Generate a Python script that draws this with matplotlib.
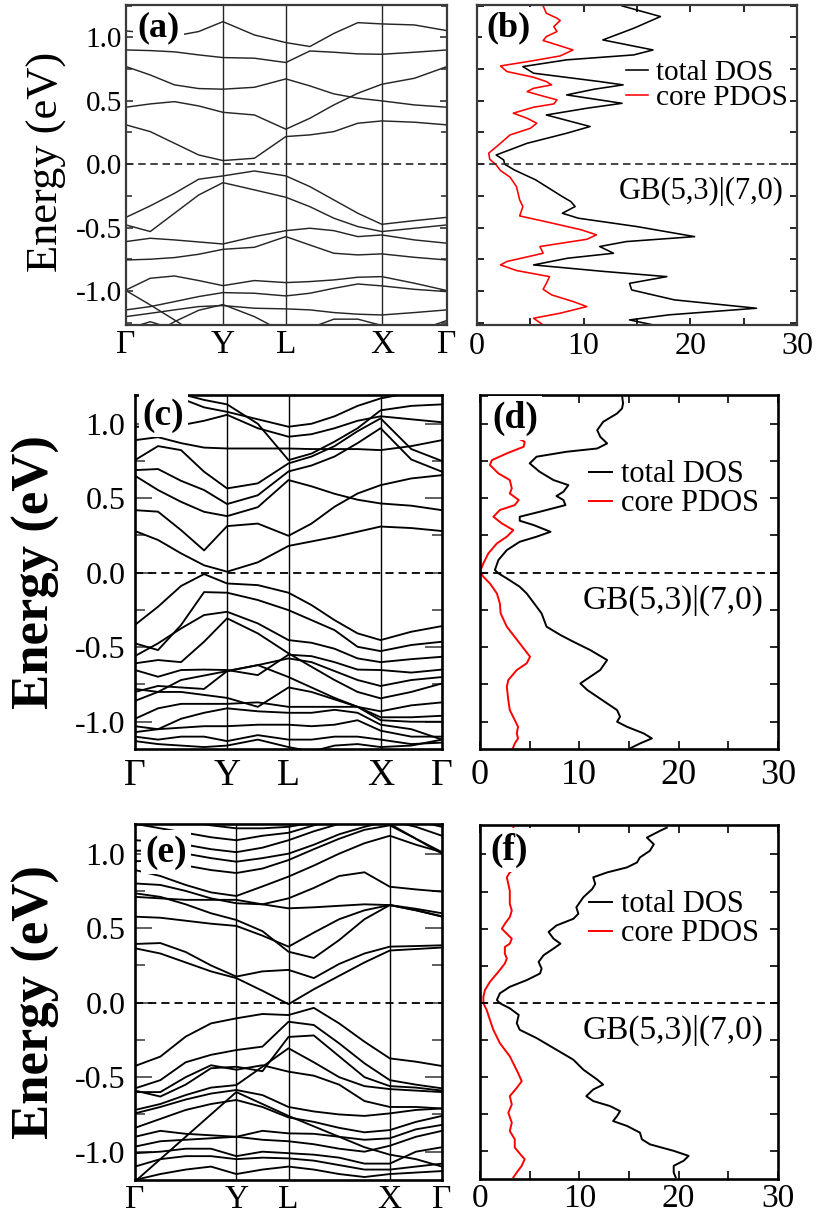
import numpy as np
import matplotlib
matplotlib.use("Agg")
import matplotlib.pyplot as plt
from matplotlib.ticker import MultipleLocator, FormatStrFormatter

plt.rcParams['font.family'] = ['Liberation Serif', 'DejaVu Serif']
plt.rcParams['axes.unicode_minus'] = False

W, H, DPI = 817, 1222, 100
nan = np.nan

# ---------------- high-symmetry path ----------------
k_labels = ['Γ', 'Y', 'L', 'X', 'Γ']
kpts_a = [0.0, 0.302, 0.498, 0.797, 1.0]
kpts_c = [0.0, 0.300, 0.500, 0.800, 1.0]
kpts_e = [0.0, 0.330, 0.500, 0.830, 1.0]
# samples per segment: Γ-Y, Y-L, L-X, X-Γ
seg_samples = [4, 2, 4, 2]

# ---------------- band energies (eV) at the 13 path samples ----------------
bands_a = [
    [1.05, 1.03, 1.01, 1.045, 1.123, 1.018, 0.958, 0.927, 1.03, 1.115, 1.105, 1.097, 1.052],
    [0.900, 0.895, 0.885, 0.861, 0.840, 0.835, 0.801, 0.892, 0.882, 0.869, 0.866, 0.882, 0.900],
    [0.769, 0.703, 0.625, 0.596, 0.591, 0.606, 0.672, 0.617, 0.554, 0.520, 0.499, 0.467, 0.449],
    [0.449, 0.475, 0.493, 0.459, 0.409, 0.388, 0.276, 0.362, 0.467, 0.559, 0.630, 0.677, 0.769],
    [0.310, 0.257, 0.165, 0.073, 0.029, 0.047, 0.218, 0.231, 0.257, 0.323, 0.341, 0.331, 0.310],
    [-0.418, -0.328, -0.229, -0.118, -0.092, -0.053, -0.092, -0.176, -0.281, -0.386, -0.473, -0.444, -0.418],
    [-0.478, -0.530, -0.386, -0.242, -0.145, -0.202, -0.260, -0.334, -0.425, -0.491, -0.530, -0.504, -0.478],
    [-0.609, -0.583, -0.596, -0.612, -0.628, -0.570, -0.523, -0.504, -0.523, -0.570, -0.557, -0.596, -0.622],
    [-0.754, -0.748, -0.735, -0.709, -0.670, -0.654, -0.570, -0.636, -0.701, -0.714, -0.706, -0.733, -0.754],
    [-0.990, -0.898, -0.880, -0.916, -0.956, -0.916, -0.932, -0.924, -0.911, -0.890, -0.885, -0.937, -0.995],
    [-1.147, -1.121, -1.082, -1.042, -1.011, -1.016, -1.037, -1.016, -0.977, -0.943, -0.958, -0.985, -1.003],
    [-1.200, -1.174, -1.147, -1.121, -1.113, -1.134, -1.139, -1.147, -1.168, -1.181, -1.187, -1.168, -1.147],
    [-0.995, -1.108, -1.226, -1.35, nan, nan, nan, nan, nan, nan, nan, nan, nan],
    [nan, -1.35, -1.24, -1.15, -1.105, -1.20, -1.33, nan, nan, nan, nan, nan, nan],
    [nan, nan, nan, nan, nan, nan, nan, -1.29, -1.22, -1.22, -1.27, -1.34, nan],
    [-1.30, -1.24, -1.30, nan, nan, nan, nan, nan, nan, nan, nan, nan, nan],
    [nan, nan, nan, nan, nan, nan, nan, nan, nan, nan, nan, -1.32, -1.23],
]

bands_c = [
    [1.28, 1.26, 1.20, 1.16, 1.13, 1.00, 0.756, 0.80, 0.88, 0.97, 1.09, 1.12, 1.13],
    [1.28, 1.24, 1.17, 1.11, 1.08, 1.03, 0.98, 1.00, 1.05, 1.12, 1.17, 1.21, 1.25],
    [0.98, 0.98, 0.99, 1.02, 1.06, 0.97, 0.913, 0.93, 0.97, 1.02, 1.05, 1.03, 1.01],
    [0.89, 0.91, 0.87, 0.84, 0.834, 0.834, 0.834, 0.83, 0.83, 0.83, 0.823, 0.85, 0.89],
    [0.756, 0.85, 0.823, 0.678, 0.566, 0.60, 0.734, 0.78, 0.85, 0.95, 1.036, 0.83, 0.75],
    [0.689, 0.696, 0.617, 0.555, 0.461, 0.52, 0.68, 0.72, 0.78, 0.87, 0.97, 0.76, 0.678],
    [0.651, 0.555, 0.476, 0.409, 0.38, 0.44, 0.622, 0.58, 0.53, 0.49, 0.465, 0.45, 0.42],
    [0.42, 0.41, 0.286, 0.15, 0.313, 0.33, 0.248, 0.33, 0.443, 0.532, 0.588, 0.633, 0.655],
    [0.28, 0.22, 0.13, 0.05, 0.007, 0.07, 0.18, 0.21, 0.24, 0.275, 0.31, 0.30, 0.28],
    [-0.35, -0.228, -0.089, -0.009, -0.072, -0.083, -0.134, -0.217, -0.318, -0.407, -0.452, -0.396, -0.358],
    [-0.474, -0.519, -0.351, -0.13, -0.134, -0.183, -0.251, -0.318, -0.385, -0.497, -0.526, -0.485, -0.463],
    [-0.559, -0.474, -0.374, -0.284, -0.262, -0.34, -0.452, -0.47, -0.51, -0.575, -0.60, -0.58, -0.564],
    [-0.608, -0.586, -0.60, -0.463, -0.306, -0.407, -0.541, -0.631, -0.72, -0.80, -0.843, -0.80, -0.743],
    [-0.653, -0.698, -0.653, -0.65, -0.653, -0.687, -0.55, -0.56, -0.60, -0.65, -0.653, -0.67, -0.65],
    [-0.78, -0.80, -0.72, -0.69, -0.66, -0.62, -0.575, -0.60, -0.66, -0.72, -0.76, -0.72, -0.70],
    [-0.80, -0.76, -0.77, -0.78, -0.66, -0.62, -0.70, -0.77, -0.84, -0.90, -0.93, -0.89, -0.87],
    [-0.86, -0.80, -0.80, -0.82, -0.84, -0.90, -0.77, -0.80, -0.85, -0.90, -0.97, -0.97, -0.96],
    [-0.98, -0.91, -0.88, -0.88, -0.88, -0.87, -0.90, -0.90, -0.90, -0.90, -0.99, -1.00, -1.00],
    [-1.03, -1.05, -0.98, -0.94, -0.91, -0.93, -0.94, -0.94, -0.92, -0.94, -1.02, -1.05, -1.12],
    [-1.07, -1.05, -1.04, -1.03, -1.03, -1.02, -1.02, -1.03, -1.02, -0.99, -1.06, -1.10, -1.10],
    [-1.10, -1.12, -1.10, -1.10, -1.13, -1.09, -1.12, -1.12, -1.10, -1.10, -1.12, -1.15, -1.14],
    [-1.13, -1.15, -1.16, -1.17, -1.16, -1.12, -1.17, -1.20, -1.16, -1.15, -1.17, -1.16, -1.12],
]

bands_e = [
    [0.365, 0.33, 0.27, 0.21, 0.165, 0.08, -0.01, 0.09, 0.18, 0.27, 0.35, 0.36, 0.37],
    [0.394, 0.40, 0.34, 0.25, 0.175, 0.21, 0.22, 0.165, 0.26, 0.33, 0.376, 0.38, 0.385],
    [0.577, 0.57, 0.55, 0.53, 0.515, 0.45, 0.376, 0.47, 0.56, 0.62, 0.655, 0.62, 0.577],
    [0.734, 0.71, 0.66, 0.60, 0.555, 0.48, 0.342, 0.30, 0.42, 0.56, 0.655, 0.62, 0.58],
    [0.80, 0.79, 0.75, 0.70, 0.667, 0.66, 0.70, 0.77, 0.85, 0.875, 0.778, 0.76, 0.745],
    [0.71, 0.70, 0.69, 0.69, 0.69, 0.66, 0.633, 0.64, 0.65, 0.66, 0.655, 0.63, 0.60],
    [0.89, 0.85, 0.79, 0.74, 0.716, 0.78, 0.846, 0.92, 1.00, 1.07, 1.12, 1.06, 1.01],
    [0.95, 0.95, 0.92, 0.89, 0.87, 0.90, 0.957, 1.03, 1.10, 1.16, 1.19, 1.10, 1.00],
    [1.02, 1.02, 1.00, 0.97, 0.946, 0.97, 1.00, 1.06, 1.13, 1.18, 1.22, 1.18, 1.12],
    [1.09, 1.08, 1.06, 1.03, 1.01, 1.04, 1.09, 1.15, 1.20, 1.24, 1.28, 1.22, 1.18],
    [1.20, 1.17, 1.14, 1.11, 1.09, 1.12, 1.14, 1.19, 1.23, 1.27, 1.30, 1.25, 1.20],
    [1.28, 1.25, 1.22, 1.19, 1.17, 1.17, 1.18, 1.21, 1.25, 1.28, 1.20, 1.10, 1.01],
    [-0.425, -0.362, -0.228, -0.139, -0.105, -0.076, -0.083, -0.035, -0.139, -0.262, -0.374, -0.396, -0.425],
    [-0.575, -0.52, -0.40, -0.35, -0.318, -0.295, -0.128, -0.15, -0.273, -0.407, -0.52, -0.55, -0.575],
    [-0.59, -0.63, -0.55, -0.44, -0.43, -0.46, -0.23, -0.22, -0.36, -0.50, -0.56, -0.57, -0.59],
    [-0.60, -0.60, -0.50, -0.42, -0.45, -0.42, -0.463, -0.49, -0.55, -0.66, -0.70, -0.70, -0.71],
    [-0.72, -0.68, -0.62, -0.57, -0.553, -0.43, -0.306, -0.40, -0.50, -0.56, -0.58, -0.59, -0.60],
    [-0.743, -0.70, -0.65, -0.61, -0.586, -0.62, -0.70, -0.73, -0.75, -0.76, -0.743, -0.72, -0.71],
    [-0.84, -0.78, -0.72, -0.68, -0.653, -0.70, -0.77, -0.80, -0.84, -0.87, -0.855, -0.80, -0.76],
    [-0.90, -0.86, -0.88, -0.89, -0.90, -0.86, -0.877, -0.88, -0.90, -0.92, -0.91, -0.85, -0.82],
    [-0.966, -0.93, -0.92, -0.91, -0.90, -0.92, -0.93, -0.95, -0.98, -1.00, -0.96, -0.90, -0.86],
    [-1.01, -1.00, -0.98, -0.98, -1.03, -1.00, -1.01, -1.02, -1.04, -1.08, -1.08, -1.00, -0.97],
    [-1.10, -1.05, -1.03, -1.03, -1.05, -1.04, -1.045, -1.06, -1.09, -1.12, -1.12, -1.10, -1.08],
    [-1.19, -1.15, -1.12, -1.10, -1.15, -1.12, -1.10, -1.12, -1.15, -1.17, -1.15, -1.14, -1.13],
    [-1.20, -1.05, -0.90, -0.75, -0.60, -0.68, -0.76, -0.83, -0.90, -0.97, -1.02, -1.05, -1.10],
    [-1.18, -1.26, nan, nan, nan, nan, nan, nan, nan, nan, nan, nan, nan],
]

# ---------------- densities of states (states/eV) ----------------
dos_b_energy = [1.247, 1.163, 1.071, 0.979, 0.900, 0.861, 0.822, 0.769, 0.717, 0.651, 0.625, 0.591,
                0.546, 0.480, 0.441, 0.388, 0.297, 0.244, 0.165, 0.073, 0.034, 0.0, -0.045, -0.123,
                -0.202, -0.255, -0.294, -0.333, -0.386, -0.425, -0.491, -0.570, -0.609, -0.648,
                -0.701, -0.740, -0.793, -0.845, -0.885, -0.938, -0.990, -1.068, -1.134, -1.186,
                -1.226, -1.265]
dos_b_total = [13.6, 17.2, 14.7, 11.8, 16.5, 14.7, 8.4, 4.3, 5.3, 11.5, 13.7, 11.0,
               8.4, 13.6, 10.3, 6.5, 10.6, 8.4, 4.7, 1.8, 2.5, 2.6, 3.5, 5.5,
               7.0, 8.0, 8.8, 9.2, 8.0, 9.5, 15.0, 20.4, 14.0, 11.5,
               12.8, 8.5, 5.3, 12.0, 17.8, 14.3, 14.5, 18.5, 26.2, 18.0,
               14.3, 16.5]
pdos_b_energy = [1.247, 1.189, 1.150, 1.131, 1.084, 1.045, 1.005, 0.974, 0.940, 0.900, 0.853, 0.816,
                 0.774, 0.730, 0.685, 0.651, 0.625, 0.598, 0.572, 0.541, 0.507, 0.475, 0.449, 0.402,
                 0.362, 0.323, 0.283, 0.231, 0.165, 0.087, 0.039, -0.005, -0.050, -0.102, -0.176,
                 -0.281, -0.333, -0.407, -0.459, -0.517, -0.556, -0.591, -0.648, -0.701, -0.766,
                 -0.793, -0.837, -0.885, -0.938, -0.985, -1.029, -1.081, -1.121, -1.173, -1.213, -1.265]
pdos_b_core = [6.2, 6.5, 7.5, 7.8, 7.2, 7.5, 6.5, 6.2, 7.5, 9.0, 7.8, 5.3,
               2.2, 2.8, 5.3, 6.5, 7.0, 5.3, 4.7, 6.0, 7.5, 7.2, 5.3, 3.4,
               4.7, 5.6, 5.0, 3.1, 2.2, 1.1, 1.2, 1.8, 2.2, 3.1, 3.7,
               4.0, 4.3, 4.0, 6.8, 9.8, 11.2, 10.3, 5.9, 6.2, 2.8,
               2.2, 3.7, 6.8, 6.5, 6.2, 7.0, 9.0, 10.3, 7.8, 5.3, 6.2]

dos_d_energy = [1.192, 1.136, 1.103, 1.069, 1.013, 0.957, 0.913, 0.868, 0.834, 0.812, 0.779, 0.734,
                0.678, 0.622, 0.588, 0.544, 0.515, 0.488, 0.454, 0.409, 0.376, 0.349, 0.320, 0.275,
                0.242, 0.208, 0.152, 0.085, 0.018, -0.004, -0.038, -0.094, -0.139, -0.228, -0.273,
                -0.362, -0.418, -0.463, -0.519, -0.586, -0.653, -0.698, -0.743, -0.787, -0.832,
                -0.877, -0.922, -0.966, -1.000, -1.034, -1.079, -1.112, -1.146, -1.179]
dos_d_total = [14.3, 14.4, 14.3, 13.8, 12.4, 11.8, 12.1, 12.8, 11.8, 8.7, 5.7, 5.0,
               6.0, 7.4, 8.9, 8.4, 7.7, 8.4, 8.6, 6.0, 4.0, 4.0, 5.4, 7.1,
               5.7, 4.0, 2.7, 1.85, 1.5, 1.85, 2.7, 4.0, 4.7, 5.7, 6.2,
               6.7, 8.1, 9.4, 11.1, 12.8, 12.1, 11.1, 10.1, 10.8, 11.8,
               12.8, 13.8, 14.1, 13.8, 14.8, 16.5, 17.3, 16.1, 15.1]
pdos_d_energy = [1.192, 1.159, 1.069, 0.980, 0.902, 0.879, 0.846, 0.801, 0.756, 0.723, 0.667, 0.622,
                 0.566, 0.532, 0.488, 0.454, 0.421, 0.376, 0.331, 0.286, 0.242, 0.197, 0.130, 0.063,
                 0.007, -0.027, -0.072, -0.139, -0.206, -0.273, -0.362, -0.474, -0.564, -0.608,
                 -0.653, -0.720, -0.765, -0.855, -0.922, -0.989, -1.034, -1.079, -1.112, -1.146, -1.179]
pdos_d_core = [3.36, 3.4, 3.5, 3.6, 3.83, 4.5, 4.4, 2.7, 1.2, 1.0, 1.85, 3.0,
               3.2, 3.0, 3.9, 3.5, 2.0, 1.35, 2.2, 3.36, 2.7, 1.7, 0.84, 0.34,
               0.0, 0.34, 1.0, 1.7, 2.0, 2.08, 2.7, 4.0, 5.04, 4.7,
               3.7, 2.85, 2.7, 2.85, 3.0, 3.5, 3.83, 3.7, 3.83, 3.5, 3.3]

dos_f_energy = [1.181, 1.159, 1.114, 1.069, 1.025, 0.980, 0.946, 0.913, 0.879, 0.846, 0.801, 0.767,
                0.711, 0.644, 0.600, 0.566, 0.521, 0.477, 0.432, 0.398, 0.365, 0.320, 0.275, 0.230,
                0.197, 0.152, 0.107, 0.063, 0.018, -0.004, -0.038, -0.083, -0.139, -0.183, -0.239,
                -0.318, -0.385, -0.452, -0.519, -0.553, -0.586, -0.631, -0.664, -0.698, -0.732,
                -0.765, -0.799, -0.832, -0.877, -0.922, -0.956, -1.000, -1.034, -1.067, -1.101,
                -1.146, -1.179]
dos_f_total = [18.8, 18.1, 16.8, 17.5, 17.1, 16.1, 15.8, 14.8, 12.8, 11.4, 11.6, 11.3,
               10.4, 9.7, 9.9, 9.4, 7.7, 6.9, 7.4, 8.1, 7.4, 6.4, 5.9, 6.2,
               6.05, 4.7, 3.0, 2.0, 1.7, 2.0, 3.0, 3.9, 3.7, 4.0, 5.7,
               7.7, 9.4, 10.4, 11.8, 12.4, 11.4, 10.7, 11.4, 13.1, 14.1,
               13.8, 13.4, 14.8, 16.1, 16.3, 17.1, 19.5, 21.0, 20.5, 19.5,
               19.5, 19.7]
pdos_f_energy = [1.181, 1.047, 0.902, 0.879, 0.846, 0.801, 0.756, 0.667, 0.622, 0.577, 0.532, 0.499,
                 0.465, 0.432, 0.398, 0.376, 0.331, 0.298, 0.264, 0.208, 0.141, 0.085, 0.040, -0.004,
                 -0.049, -0.116, -0.183, -0.273, -0.362, -0.474, -0.530, -0.575, -0.631, -0.687,
                 -0.743, -0.810, -0.866, -0.922, -0.978, -1.034, -1.056, -1.101, -1.146, -1.179]
pdos_f_core = [3.36, 3.4, 3.5, 3.0, 2.7, 2.85, 3.0, 3.0, 3.2, 3.0, 2.5, 2.2,
               2.7, 3.2, 3.0, 2.5, 2.5, 2.7, 2.5, 1.85, 1.0, 0.5, 0.34, 0.34,
               0.67, 1.0, 1.34, 2.0, 3.0, 3.83, 4.2, 3.7, 3.0, 3.2,
               2.85, 3.2, 3.0, 3.5, 3.5, 4.2, 4.5, 4.2, 3.7, 3.36]

system_label = 'GB(5,3)|(7,0)'
legend_labels = ['total DOS', 'core PDOS']
panel_tags = ['(a)', '(b)', '(c)', '(d)', '(e)', '(f)']


def path_samples(kp):
    pts = [kp[0]]
    for i, n in enumerate(seg_samples):
        pts.extend(np.linspace(kp[i], kp[i + 1], n + 1)[1:])
    return np.array(pts)


fig = plt.figure(figsize=(W / DPI, H / DPI), dpi=DPI)


def px_axes(l, t, r, b):
    return fig.add_axes([l / W, 1 - b / H, (r - l) / W, (b - t) / H])


def style_frame(ax, color, lw):
    for s in ax.spines.values():
        s.set_linewidth(lw)
        s.set_color(color)


def band_panel(ax, kp, bands, ylim, st):
    k = path_samples(kp)
    for b in bands:
        ax.plot(k, np.array(b, dtype=float), color=st['line'], lw=st['blw'],
                solid_joinstyle='round', zorder=2)
    for x in kp[1:-1]:
        ax.axvline(x, color=st['line'], lw=st['vlw'], zorder=1)
    ax.axhline(0.0, color=st['line'], lw=st['dlw'], ls=(0, (4.5, 2.8)), zorder=3)
    ax.set_xlim(0, 1)
    ax.set_ylim(*ylim)
    ax.set_xticks(kp)
    ax.set_xticklabels(k_labels, fontsize=st['kfs'])
    ax.tick_params(axis='x', length=0, pad=st['kpad'])
    ax.yaxis.set_major_locator(MultipleLocator(0.5))
    ax.yaxis.set_minor_locator(MultipleLocator(0.25))
    ax.yaxis.set_major_formatter(FormatStrFormatter('%.1f'))
    ax.tick_params(axis='y', which='both', direction='in', left=True, right=True,
                   labelsize=st['yfs'], pad=st['ypad'], color=st['tick'])
    ax.tick_params(axis='y', which='major', length=st['tmaj'], width=1.2)
    ax.tick_params(axis='y', which='minor', length=st['tmin'], width=1.2)
    style_frame(ax, st['frame'], st['flw'])


def dos_panel(ax, e_tot, d_tot, e_core, d_core, ylim, st, leg_anchor, gb_pos):
    l1, = ax.plot(d_tot, e_tot, color='black', lw=st['dos_lw'], label=legend_labels[0], zorder=2)
    l2, = ax.plot(d_core, e_core, color='#ff0000', lw=st['dos_lw'], label=legend_labels[1], zorder=2)
    ax.axhline(0.0, color=st['line'], lw=st['dlw'], ls=(0, (4.5, 2.8)), zorder=3)
    ax.set_xlim(0, 30)
    ax.set_ylim(*ylim)
    ax.xaxis.set_major_locator(MultipleLocator(10))
    ax.xaxis.set_minor_locator(MultipleLocator(5))
    ax.yaxis.set_major_locator(MultipleLocator(0.25))
    ax.tick_params(axis='x', which='both', direction='in', top=True, bottom=True,
                   labelsize=st['xfs'], pad=st['xpad'], length=st['dtick'], width=1.2)
    ax.tick_params(axis='y', which='both', direction='in', left=True, right=True,
                   labelleft=False, length=st['dtick'], width=1.2)
    style_frame(ax, st['frame'], st['flw'])
    leg = ax.legend(handles=[l1, l2], loc='upper left', bbox_to_anchor=leg_anchor,
                    frameon=False, fontsize=st['lfs'], handlelength=0.75,
                    handletextpad=0.3, labelspacing=st['lsp'], borderpad=0,
                    borderaxespad=0)
    leg.set_zorder(6)
    ax.text(gb_pos[0], gb_pos[1], system_label, transform=ax.transAxes,
            ha='right', va='center', fontsize=st['gfs'], zorder=6)


def tag(ax, txt, pos, fs):
    ax.text(pos[0], pos[1], txt, transform=ax.transAxes, ha='left', va='center',
            fontsize=fs, fontweight='bold', zorder=7,
            bbox=dict(facecolor='white', edgecolor='none', pad=3))


top_style = dict(line='#262626', blw=1.05, vlw=1.0, dlw=1.2, kfs=24, kpad=3, yfs=21, ypad=3,
                 tick='#333333', tmaj=5, tmin=4, frame='#3a3a3a', flw=1.6, dos_lw=1.15,
                 xfs=23, xpad=5, dtick=5, lfs=21, lsp=-0.05, gfs=22)
mid_style = dict(line='black', blw=1.35, vlw=1.0, dlw=1.3, kfs=27, kpad=7, yfs=23, ypad=7,
                 tick='#444444', tmaj=12, tmin=7, frame='black', flw=1.9, dos_lw=1.4,
                 xfs=26, xpad=7, dtick=6, lfs=22, lsp=0.0, gfs=24)
bot_style = dict(mid_style, kfs=24, kpad=3, xfs=24, xpad=3)

ylim_top = (-1.266, 1.254)
ylim_mid = (-1.183, 1.193)
ylim_bot = (-1.190, 1.199)

# row 1
ax_a = px_axes(126, 5, 447, 325)
band_panel(ax_a, kpts_a, bands_a, ylim_top, top_style)
tag(ax_a, panel_tags[0], (0.035, 0.93), 26)
ax_b = px_axes(477, 5, 797, 325)
dos_panel(ax_b, dos_b_energy, dos_b_total, pdos_b_energy, pdos_b_core, ylim_top, top_style,
          (0.465, 0.83), (0.957, 0.416))
tag(ax_b, panel_tags[1], (0.03, 0.93), 26)
fig.text(47 / W, 1 - 162 / H, 'Energy (eV)', rotation=90, ha='center', va='center', fontsize=32)

# row 2
ax_c = px_axes(135, 395, 442, 749)
band_panel(ax_c, kpts_c, bands_c, ylim_mid, mid_style)
tag(ax_c, panel_tags[2], (0.025, 0.943), 27)
ax_d = px_axes(480, 395, 778, 749)
dos_panel(ax_d, dos_d_energy, dos_d_total, pdos_d_energy, pdos_d_core, ylim_mid, mid_style,
          (0.365, 0.815), (0.95, 0.421))
tag(ax_d, panel_tags[3], (0.04, 0.935), 27)
fig.text(36 / W, 1 - 572 / H, 'Energy (eV)', rotation=90, ha='center', va='center',
         fontsize=38, fontweight='bold')

# row 3
ax_e = px_axes(135, 824, 442, 1180)
band_panel(ax_e, kpts_e, bands_e, ylim_bot, bot_style)
tag(ax_e, panel_tags[4], (0.033, 0.921), 27)
ax_f = px_axes(480, 825, 778, 1179)
dos_panel(ax_f, dos_f_energy, dos_f_total, pdos_f_energy, pdos_f_core, ylim_bot, bot_style,
          (0.365, 0.815), (0.95, 0.421))
tag(ax_f, panel_tags[5], (0.034, 0.929), 27)
fig.text(36 / W, 1 - 1002 / H, 'Energy (eV)', rotation=90, ha='center', va='center',
         fontsize=38, fontweight='bold')

fig.savefig('out.png', dpi=DPI)
